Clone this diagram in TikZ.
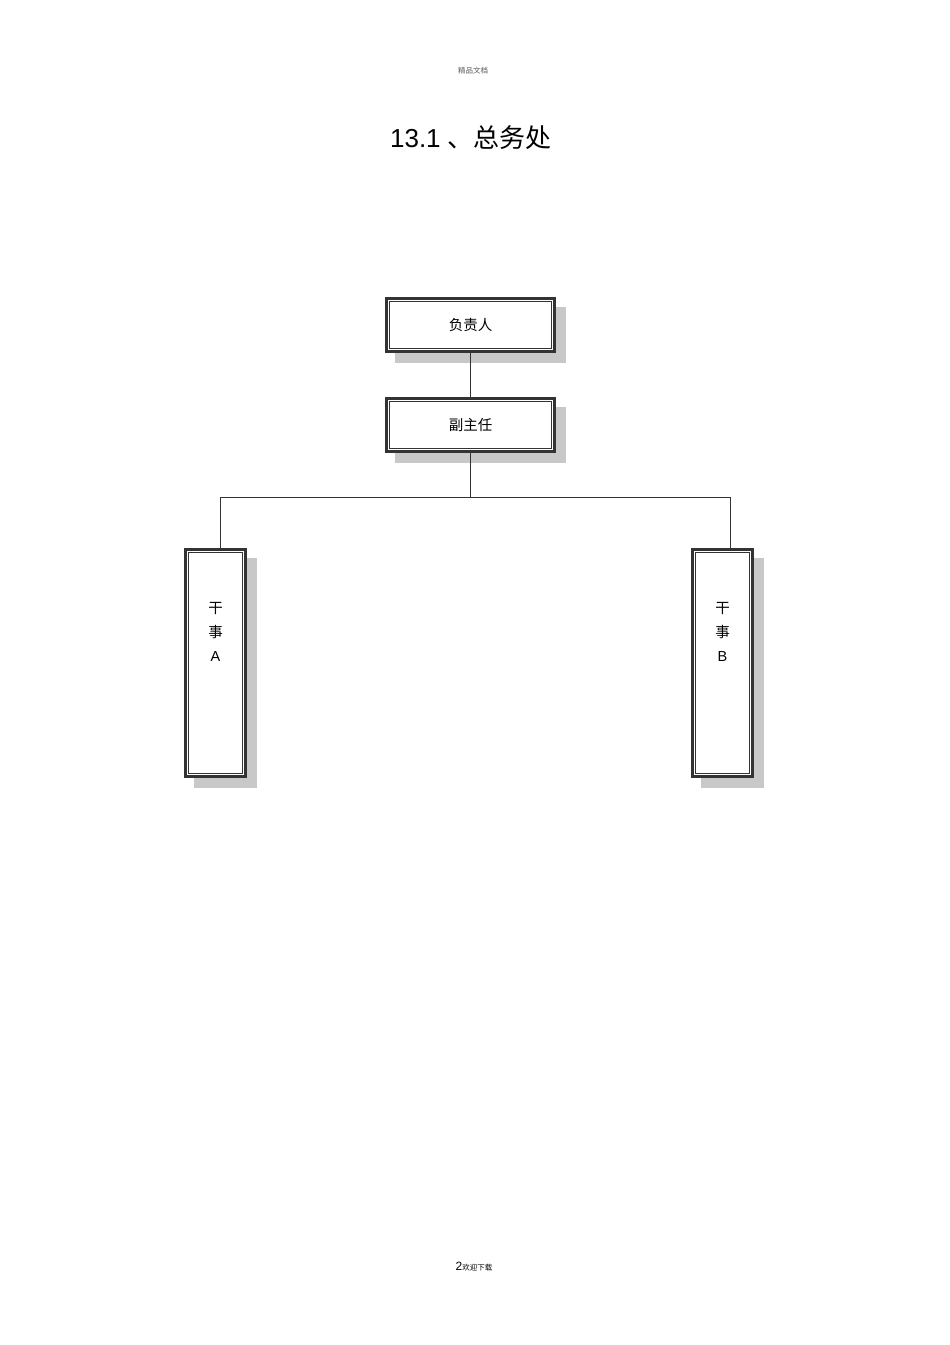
\documentclass[tikz,border=0pt]{standalone}
\usepackage{fontspec}
\setmainfont{Liberation Sans}
\newfontfamily\cjk{Noto Sans CJK SC}
\pgfdeclarelayer{bg}
\pgfsetlayers{bg,main}
\definecolor{bordc}{HTML}{333333}
\definecolor{shadc}{HTML}{C8C8C8}
\tikzset{
  orgbox/.style={draw=bordc, line width=2.6pt, fill=white, inner sep=0pt},
  hbox/.style={orgbox, minimum width=168pt, minimum height=53pt},
  vbox/.style={orgbox, minimum width=60pt, minimum height=227pt},
  conn/.style={draw=bordc, line width=0.9pt},
  inner/.style={draw=bordc, line width=0.9pt},
  shad/.style={fill=shadc, draw=none},
  boxtext/.style={font=\fontsize{14.5}{24}\selectfont, align=center, inner sep=0pt}
}
\begin{document}
\begin{tikzpicture}[x=1pt,y=-1pt]
\useasboundingbox (0,0) rectangle (950,1345);
\node[font=\cjk\fontsize{7.5}{9}\selectfont, text=black!65] (hdr) at (473,71) {精品文档};
\node[font=\fontsize{26}{30}\selectfont] (title) at (471,138) {13.1 {\cjk 、总务处}};
\node[inner sep=0pt] (ftr) at (474,1267) {\fontsize{12}{14}\selectfont 2{\cjk\fontsize{7.5}{9}\selectfont 欢迎下载}};

\node[hbox] (top) at (470.5,325) {};
\node[boxtext] (topT) at (top.center) {\cjk 负责人};
\node[hbox] (dep) at (470.5,425) {};
\node[boxtext] (depT) at (dep.center) {\cjk 副主任};
\node[vbox] (a) at (215.5,663) {};
\node[boxtext] (aT) at (215.5,632) {{\cjk 干}\\{\cjk 事}\\A};
\node[vbox] (b) at (722.5,663) {};
\node[boxtext] (bT) at (722.5,632) {{\cjk 干}\\{\cjk 事}\\B};

\foreach \n in {top,dep,a,b}{
  \draw[inner] ([shift={(4.2,4.2)}]\n.north west) rectangle ([shift={(-4.2,-4.2)}]\n.south east);
  \begin{pgfonlayer}{bg}
    \fill[shad] ([shift={(10,10)}]\n.north west) rectangle ([shift={(10,10)}]\n.south east);
  \end{pgfonlayer}
}

\coordinate (j) at (470.5,497);
\coordinate (ja) at (220,497);
\coordinate (jb) at (730,497);
\begin{pgfonlayer}{bg}
\draw[conn] (top.south) -- (dep.north);
\draw[conn] (dep.south) -- (j);
\draw[conn] (ja) -- (jb);
\draw[conn] (ja) -- (ja |- a.north);
\draw[conn] (jb) -- (jb |- b.north);
\end{pgfonlayer}
\end{tikzpicture}
\end{document}
